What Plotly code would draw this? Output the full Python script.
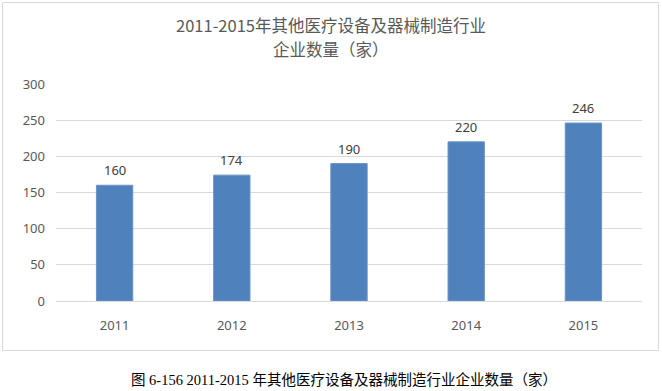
import plotly.graph_objects as go

years = ["2011", "2012", "2013", "2014", "2015"]
counts = [160, 174, 190, 220, 246]
y_ticks = [0, 50, 100, 150, 200, 250, 300]
title_line1 = "2011-2015年其他医疗设备及器械制造行业"
title_line2 = "企业数量（家）"
caption_text = "图 6-156 2011-2015 年其他医疗设备及器械制造行业企业数量（家）"

W, H = 662, 391
L, R, T, B = 56, 20, 84, 90
pw, ph = W - L - R, H - T - B

def px_x(x):
    return (x - L) / pw

def px_y(y):
    return (H - B - y) / ph

fig = go.Figure(go.Bar(
    x=years, y=counts,
    marker=dict(color="#4f81bd", line=dict(color="#6a93c6", width=1)),
))

# value labels: positioned via the category index on the x axis and the data value on y
label_annotations = [
    dict(x=i, y=v, xref="x", yref="y", text=str(v), showarrow=False,
         yanchor="middle", yshift=15,
         font=dict(family="Noto Sans", size=13, color="#404040"))
    for i, v in enumerate(counts)
]

title_font = dict(family="Noto Sans CJK SC", size=16.5, color="#595959")

fig.update_layout(
    width=W, height=H,
    margin=dict(l=L, r=R, t=T, b=B),
    paper_bgcolor="white", plot_bgcolor="white",
    bargap=0.69, showlegend=False,
    xaxis=dict(type="category", range=[-0.5, len(years) - 0.5],
               showgrid=False, showline=True, linecolor="#d9d9d9", ticks="",
               tickfont=dict(family="Noto Sans", size=13, color="#595959"),
               ticklabelstandoff=12),
    yaxis=dict(range=[0, 300], tickvals=y_ticks, showgrid=True, gridcolor="#d9d9d9",
               zeroline=False, showline=False, ticks="",
               tickfont=dict(family="Noto Sans", size=13, color="#595959"),
               ticklabelstandoff=10),
    shapes=[dict(type="rect", xref="paper", yref="paper",
                 x0=px_x(2.5), x1=px_x(658.5), y0=px_y(350.5), y1=px_y(2.5),
                 line=dict(color="#d9d9d9", width=1), fillcolor="rgba(0,0,0,0)")],
    annotations=label_annotations + [
        dict(text=title_line1, xref="paper", yref="paper", x=px_x(331), y=px_y(25.5),
             xanchor="center", yanchor="middle", showarrow=False, font=title_font),
        dict(text=title_line2, xref="paper", yref="paper", x=px_x(331), y=px_y(49),
             xanchor="center", yanchor="middle", showarrow=False, font=title_font),
        dict(text=caption_text, xref="paper", yref="paper", x=px_x(344), y=px_y(380),
             xanchor="center", yanchor="middle", showarrow=False,
             font=dict(family="Liberation Serif, Noto Sans CJK SC", size=14.5, color="#000000")),
    ],
)

fig.write_html("out.html", config={"displayModeBar": False},
               post_script="document.body.style.margin='0';document.body.style.overflow='hidden';")
